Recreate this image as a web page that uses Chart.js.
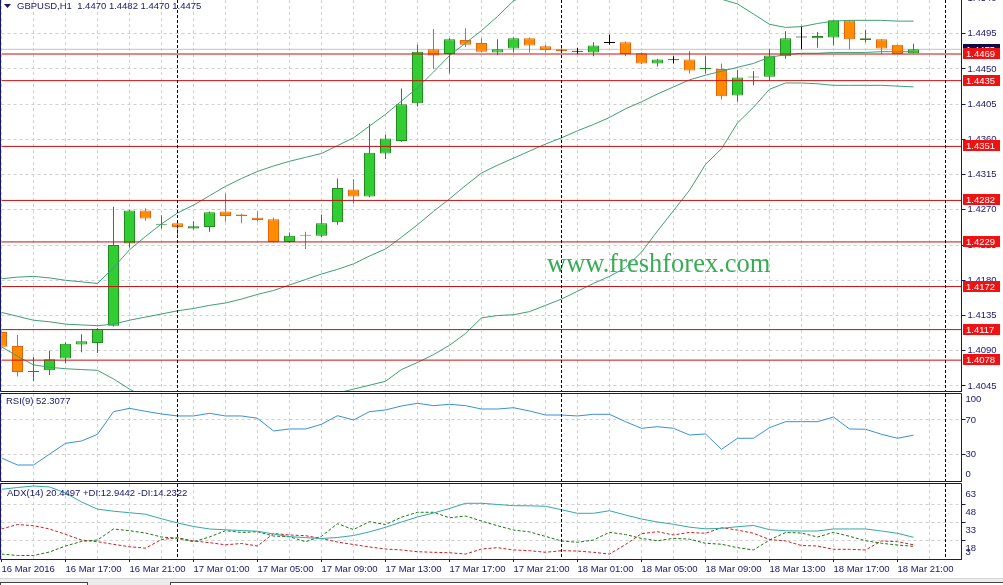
<!DOCTYPE html>
<html>
<head>
<meta charset="utf-8">
<script src="https://cdn.jsdelivr.net/npm/chart.js@4.4.1/dist/chart.umd.min.js"></script>
<style>
  html, body { margin: 0; padding: 0; background: #fff; }
  #wrap { position: relative; width: 1003px; height: 585px; overflow: hidden; background: #fff; }
  #wrap canvas { position: absolute; left: 0; }
  #main { top: 0; }
  #rsi { top: 392px; }
  #adx { top: 482px; }
  #tabs { position: absolute; left: 0; top: 578px; width: 1003px; height: 7px; background: #ececec; border-top: 1px solid #d6d6d6; }
  #tabs div { position: absolute; top: 3px; height: 8px; background: #fff; border: 1px solid #444; }
</style>
</head>
<body>
<div id="wrap">
  <canvas id="main" width="1003" height="392"></canvas>
  <canvas id="rsi" width="1003" height="90"></canvas>
  <canvas id="adx" width="1003" height="96"></canvas>
  <div id="tabs"><div style="left:0;width:86px"></div><div style="left:170px;width:840px"></div></div>
</div>
<script>
// GBPUSD H1, 16 Mar 13:00 .. 18 Mar 22:00 (one value per bar)
const opens  = [1.4114,1.4096,1.4063,1.4065,1.4080,1.4098,1.4100,1.4122,1.4227,1.4269,
                1.4251,1.4253,1.4246,1.4248,1.4268,1.4264,1.4260,1.4258,1.4229,1.4238,
                1.4237,1.4254,1.4296,1.4287,1.4342,1.4358,1.4406,1.4475,1.4469,1.4487,
                1.4483,1.4471,1.4476,1.4489,1.4479,1.4475,1.4472,1.4471,1.4483,1.4484,
                1.4470,1.4457,1.4461,1.4462,1.4450,1.4450,1.4416,1.4439,1.4440,1.4466,
                1.4490,1.4489,1.4490,1.4512,1.4487,1.4488,1.4481,1.4470];
const highs  = [1.4118,1.4110,1.4082,1.4090,1.4101,1.4111,1.4119,1.4274,1.4270,1.4272,
                1.4263,1.4254,1.4255,1.4268,1.4291,1.4265,1.4268,1.4260,1.4241,1.4242,
                1.4264,1.4310,1.4309,1.4380,1.4366,1.4425,1.4481,1.4501,1.4489,1.4502,
                1.4489,1.4488,1.4490,1.4490,1.4481,1.4480,1.4477,1.4484,1.4494,1.4485,
                1.4471,1.4463,1.4466,1.4473,1.4466,1.4457,1.4449,1.4447,1.4475,1.4498,
                1.4505,1.4497,1.4512,1.4512,1.4500,1.4488,1.4481,1.4482];
const lows   = [1.4092,1.4057,1.4051,1.4059,1.4074,1.4088,1.4087,1.4121,1.4222,1.4256,
                1.4246,1.4237,1.4245,1.4242,1.4255,1.4253,1.4255,1.4228,1.4228,1.4220,
                1.4235,1.4251,1.4278,1.4286,1.4335,1.4357,1.4402,1.4450,1.4444,1.4478,
                1.4471,1.4468,1.4471,1.4471,1.4471,1.4471,1.4469,1.4466,1.4481,1.4466,
                1.4456,1.4453,1.4457,1.4444,1.4444,1.4411,1.4408,1.4429,1.4435,1.4463,
                1.4475,1.4477,1.4480,1.4475,1.4484,1.4469,1.4469,1.4470];
const closes = [1.4095,1.4063,1.4064,1.4079,1.4099,1.4102,1.4117,1.4225,1.4269,1.4259,
                1.4252,1.4248,1.4249,1.4267,1.4262,1.4262,1.4257,1.4229,1.4237,1.4237,
                1.4253,1.4298,1.4287,1.4343,1.4361,1.4405,1.4472,1.4467,1.4488,1.4481,
                1.4472,1.4475,1.4489,1.4480,1.4474,1.4473,1.4472,1.4480,1.4483,1.4469,
                1.4457,1.4462,1.4461,1.4448,1.4451,1.4415,1.4439,1.4440,1.4467,1.4489,
                1.4490,1.4492,1.4512,1.4488,1.4489,1.4476,1.4469,1.4475];

// Bollinger bands
const upperBand = [1.4182,1.4184,1.4185,1.4183,1.4180,1.4178,1.4176,1.4196,1.4219,1.4236,
                   1.4252,1.4266,1.4276,1.4288,1.4300,1.4310,1.4319,1.4326,1.4332,1.4337,
                   1.4342,1.4352,1.4362,1.4377,1.4392,1.4409,1.4426,1.4446,1.4467,1.4483,
                   1.4499,1.4517,1.4537,1.4545,1.4549,1.4551,1.4552,1.4552,1.4551,1.4549,
                   1.4547,1.4545,1.4543,1.4541,1.4540,1.4539,1.4533,1.4520,1.4507,1.4503,
                   1.4504,1.4508,1.4511,1.4512,1.4512,1.4512,1.4511,1.4511];
const middleBand = [1.4139,1.4134,1.4129,1.4127,1.4124,1.4123,1.4122,1.4124,1.4129,1.4133,
                    1.4137,1.4141,1.4144,1.4148,1.4151,1.4156,1.4162,1.4167,1.4174,1.4181,
                    1.4188,1.4194,1.4201,1.4211,1.4220,1.4235,1.4251,1.4268,1.4284,1.4301,
                    1.4317,1.4327,1.4336,1.4345,1.4354,1.4362,1.4371,1.4379,1.4388,1.4399,
                    1.4408,1.4418,1.4427,1.4436,1.4442,1.4447,1.4452,1.4457,1.4465,1.4468,
                    1.4470,1.4470,1.4471,1.4471,1.4471,1.4472,1.4472,1.4472];
const lowerBand = [1.4095,1.4083,1.4072,1.4069,1.4067,1.4066,1.4065,1.4054,1.4041,1.4030,
                   1.4022,1.4016,1.4012,1.4008,1.4002,1.4002,1.4005,1.4008,1.4016,1.4025,
                   1.4034,1.4036,1.4041,1.4046,1.4051,1.4066,1.4075,1.4085,1.4097,1.4112,
                   1.4132,1.4135,1.4136,1.4140,1.4148,1.4156,1.4166,1.4176,1.4185,1.4196,
                   1.4216,1.4243,1.4269,1.4295,1.4328,1.4348,1.4381,1.4401,1.4424,1.4432,
                   1.4432,1.4431,1.4429,1.4429,1.4429,1.4429,1.4428,1.4427];

// RSI(9)
const rsi = [25.7,17.5,17.5,30.1,42.8,45.5,53.3,79.7,83.6,80.1,
             77,74.7,74.7,77.8,74.7,74.7,72,57.2,59.5,59.5,
             65,75,70,79.7,81.7,86.3,89.5,86.7,88.3,86.7,
             82.8,82.8,84.3,80.5,75.8,75.8,74.7,76.6,76.6,68,
             60.3,62.2,60.3,52.5,53.7,35.8,48.7,48.7,61,68,
             68,68,73.5,59.5,59.2,53.3,48.7,52.3];

// ADX(14), +DI, -DI
const adx = [60.45,61.95,63.2,62.4,57.4,49.9,43.9,42.2,40.95,39.7,
             35.9,32.4,29.45,27.4,26.7,26.1,25.5,23.2,21,20.2,
             19.45,20.3,21.95,25,28.8,33.2,37.4,40.7,44.45,48.8,
             48.8,47.8,46.8,46.7,46.3,43.4,40.45,40.45,42.6,39,
             35.7,33.2,31.3,28.9,27.5,27.95,29.3,30.3,26.8,25.9,
             25.7,25.7,27.4,27.4,27.4,25.7,23.8,20.45];
const plusDI = [6.5,5.3,5.3,8.2,13.2,17,18.2,27.4,25.95,24,
                20.7,19.6,16.8,20.7,25.95,24.5,25.1,21.5,20.95,16.8,
                21.3,31.8,26.9,33.45,31.1,37.2,41.3,41.3,36.7,38.2,
                34,30.1,26.5,25,21.2,17.4,16.3,18.2,24.6,22.8,
                19.5,17.6,19.6,18.9,15.45,14.7,11.8,9.9,18.2,24.45,
                24,20.7,24.6,21.3,17.6,15.5,14,12.94];
const minusDI = [27.4,31.1,30.1,27.4,22.95,18.2,16.8,14.6,12.6,11.4,
                 18.6,20.1,17.4,16,14.2,15.3,13.2,23.6,22.4,21.8,
                 19.4,16.5,14.45,12.4,10.7,9.9,8.45,7.95,7.6,6.5,
                 10.7,11.8,9.9,9.3,7.95,9.3,9,7.95,6.5,14.45,
                 23.5,25.1,22.4,24.5,23.8,28.4,26.5,23.8,18.6,17.5,
                 13.6,13.2,10.45,10.45,9.9,17.4,16.8,14.23];

// horizontal levels, bid, ticks and labels
const levels = [1.4469, 1.4435, 1.4351, 1.4282, 1.4229, 1.4172, 1.4117, 1.4078];
const bidPrice = 1.4475;
const priceTicks = [1.4540,1.4495,1.4450,1.4405,1.4360,1.4315,1.4270,1.4225,1.4180,1.4135,1.4090,1.4045];
const rsiGrid = [70, 30];
const rsiLabels = [100, 70, 30, 0];
const adxGrid = [48, 33, 18];
const adxLabels = [63, 48, 33, 18, 3];
const xLabels = ['16 Mar 2016','16 Mar 17:00','16 Mar 21:00','17 Mar 01:00','17 Mar 05:00',
                 '17 Mar 09:00','17 Mar 13:00','17 Mar 17:00','17 Mar 21:00','18 Mar 01:00',
                 '18 Mar 05:00','18 Mar 09:00','18 Mar 13:00','18 Mar 17:00','18 Mar 21:00'];
const daySeparators = [11, 35, 59];
const mainTitle = 'GBPUSD,H1  1.4470 1.4482 1.4470 1.4475';
const rsiTitle = 'RSI(9) 52.3077';
const adxTitle = 'ADX(14) 20.4497 +DI:12.9442 -DI:14.2322';
const watermark = 'www.freshforex.com';

const NAVY = '#17176e';
const GRID = '#cfcfcf';
const FONT = { family: '"Liberation Sans", Arial, sans-serif', size: 9.5 };
const FONT_CSS = '9.5px "Liberation Sans", Arial, sans-serif';
const BULL_FILL = '#32cd32', BULL_EDGE = '#1e8c1e';
const BEAR_FILL = '#ff8c00', BEAR_EDGE = '#e2650f';
const DOJI = '#000000';

const xTickValues = [];
for (let v = 0; v <= 60; v += 2) xTickValues.push(v);

const pts = arr => arr.map((v, i) => ({ x: i, y: v }));
const flat = v => [{ x: 0, y: v }, { x: 60, y: v }];

// no extra room for labels that hang over the panel edges
function noPadding(s) {
    s.paddingTop = 0; s.paddingBottom = 0; s.paddingLeft = 0; s.paddingRight = 0;
}

function xScale(withLabels) {
    return {
        type: 'linear', min: 0, max: 60, offset: false, bounds: 'data',
        afterBuildTicks: s => { s.ticks = xTickValues.map(v => ({ value: v })); },
        afterFit: s => { s.height = withLabels ? 19 : 0; noPadding(s); },
        grid: {
            offset: false, color: GRID, drawTicks: withLabels, tickLength: 3,
            tickColor: c => (c.tick && c.tick.value % 4 === 0) ? NAVY : 'rgba(0,0,0,0)'
        },
        border: { display: withLabels, color: NAVY, dash: [3, 3] },
        ticks: {
            display: withLabels, autoSkip: false, maxRotation: 0, minRotation: 0,
            align: 'start', padding: 2, color: NAVY, font: FONT,
            callback: v => (v % 4 === 0 ? xLabels[v / 4] : '')
        }
    };
}

function yScale(min, max, tickValues, showLabels, fmt) {
    return {
        type: 'linear', position: 'right', min: min, max: max, bounds: 'data', beginAtZero: false,
        afterBuildTicks: s => { s.ticks = tickValues.map(v => ({ value: v })); },
        afterFit: s => { s.width = 41.5; noPadding(s); },
        grid: { color: GRID, tickLength: 4, tickColor: NAVY },
        border: { color: NAVY, dash: [3, 3] },
        ticks: { display: showLabels, autoSkip: false, color: NAVY, font: FONT, padding: 2, callback: fmt }
    };
}

// dotted day separators over all panels
const separatorPlugin = {
    id: 'separators',
    afterDatasetsDraw(chart) {
        const { ctx, chartArea: a, scales: { x } } = chart;
        ctx.save();
        ctx.strokeStyle = '#000030';
        ctx.lineWidth = 1;
        ctx.setLineDash([3, 2]);
        daySeparators.forEach(v => {
            const px = Math.floor(x.getPixelForValue(v)) + 0.5;
            ctx.beginPath();
            ctx.moveTo(px, a.top);
            ctx.lineTo(px, a.bottom);
            ctx.stroke();
        });
        ctx.restore();
    }
};

// navy frame round each panel
const framePlugin = {
    id: 'frame',
    afterDraw(chart) {
        const { ctx, chartArea: a } = chart;
        const l = 0.5, r = Math.floor(a.right) + 0.5;
        const t = Math.round(a.top) - 0.5, b = Math.round(a.bottom) + 0.5;
        ctx.save();
        ctx.strokeStyle = NAVY;
        ctx.lineWidth = 1;
        ctx.beginPath();
        ctx.moveTo(l, t); ctx.lineTo(r, t); ctx.lineTo(r, b); ctx.lineTo(l, b); ctx.closePath();
        ctx.stroke();
        ctx.restore();
    }
};

// panel caption in the top left corner
const titlePlugin = {
    id: 'caption',
    afterDraw(chart, args, opts) {
        const ctx = chart.ctx;
        ctx.save();
        ctx.font = FONT_CSS;
        ctx.fillStyle = NAVY;
        ctx.textBaseline = 'middle';
        ctx.fillText(opts.text, opts.x, opts.y);
        if (opts.arrow) {
            ctx.beginPath();
            ctx.moveTo(4, 4); ctx.lineTo(11, 4); ctx.lineTo(7.5, 8); ctx.closePath();
            ctx.fill();
        }
        ctx.restore();
    }
};

// value labels on the right of the indicator panels, kept inside the panel
const sideLabelsPlugin = {
    id: 'sideLabels',
    afterDraw(chart, args, opts) {
        const { ctx, chartArea: a, scales: { y } } = chart;
        ctx.save();
        ctx.font = FONT_CSS;
        ctx.fillStyle = NAVY;
        ctx.textBaseline = 'middle';
        opts.values.forEach(v => {
            let py = y.getPixelForValue(v) + opts.offset;
            py = Math.min(Math.max(py, a.top + 5), a.bottom - 7);
            ctx.fillText(String(v), a.right + 4, py);
        });
        ctx.restore();
    }
};

function drawTag(ctx, py, value, color) {
    const top = Math.round(py - 5.5);
    ctx.fillStyle = color;
    ctx.fillRect(963, top, 37, 11);
    ctx.fillStyle = '#ffffff';
    ctx.font = FONT_CSS;
    ctx.textBaseline = 'middle';
    ctx.fillText(value.toFixed(4), 966, top + 6);
}

const mainOverlay = {
    id: 'mainOverlay',
    beforeDatasetsDraw(chart) {
        const ctx = chart.ctx;
        ctx.save();
        ctx.font = '26.5px "Liberation Serif", "Times New Roman", serif';
        ctx.fillStyle = '#3aab55';
        ctx.textBaseline = 'alphabetic';
        ctx.fillText(watermark, 547, 272);
        ctx.restore();
    },
    afterDraw(chart) {
        const { ctx, scales: { y } } = chart;
        ctx.save();
        drawTag(ctx, y.getPixelForValue(bidPrice), bidPrice, '#0b0b4a');
        levels.forEach(v => drawTag(ctx, y.getPixelForValue(v) - 0.5, v, '#f01212'));
        ctx.restore();
    }
};

const baseOptions = (padding) => ({
    responsive: false,
    animation: false,
    devicePixelRatio: 1,
    events: [],
    layout: { padding: padding }
});

function drawMain() {
    const bull = opens.map((o, i) => closes[i] > o);
    const bear = opens.map((o, i) => closes[i] < o);
    const fill = opens.map((o, i) => bull[i] ? BULL_FILL : bear[i] ? BEAR_FILL : DOJI);
    const edge = opens.map((o, i) => bull[i] ? BULL_EDGE : bear[i] ? BEAR_EDGE : DOJI);

    const levelSets = levels.map(v => ({
        type: 'line', data: flat(v), borderColor: '#c81010', borderWidth: 1,
        pointRadius: 0, order: 0
    }));
    const band = (arr) => ({
        type: 'line', data: pts(arr), borderColor: '#3f9f73', borderWidth: 1,
        pointRadius: 0, tension: 0, order: 1
    });

    new Chart(document.getElementById('main'), {
        type: 'bar',
        data: {
            datasets: [
                ...levelSets,
                band(upperBand), band(middleBand), band(lowerBand),
                {
                    type: 'bar', data: opens.map((o, i) => ({ x: i, y: [o, closes[i]] })),
                    backgroundColor: fill, borderColor: edge, borderWidth: 1, borderSkipped: false,
                    grouped: false, maxBarThickness: 11, minBarLength: 1, inflateAmount: 0, order: 2
                },
                {
                    type: 'bar', data: lows.map((l, i) => ({ x: i, y: [l, highs[i]] })),
                    backgroundColor: edge, borderWidth: 0, grouped: false,
                    maxBarThickness: 1, inflateAmount: 0, order: 3
                },
                {
                    type: 'line', data: flat(bidPrice), borderColor: '#c4c4c4', borderWidth: 1,
                    pointRadius: 0, order: 4
                }
            ]
        },
        options: {
            ...baseOptions({ left: 1.5, right: 0, top: 0, bottom: 1 }),
            scales: {
                x: xScale(false),
                y: yScale(1.40386, 1.45380, priceTicks, true, v => Number(v).toFixed(4))
            },
            plugins: {
                legend: { display: false }, tooltip: { enabled: false },
                caption: { text: mainTitle, x: 17, y: 6, arrow: true }
            }
        },
        plugins: [mainOverlay, separatorPlugin, framePlugin, titlePlugin]
    });
}

function drawRsi() {
    new Chart(document.getElementById('rsi'), {
        type: 'line',
        data: {
            datasets: [{
                data: pts(rsi), borderColor: '#3a8fd4', borderWidth: 1, pointRadius: 0, tension: 0
            }]
        },
        options: {
            ...baseOptions({ left: 1.5, right: 0, top: 2, bottom: 1 }),
            scales: {
                x: xScale(false),
                y: yScale(-1.14, 100.3, rsiGrid, false)
            },
            plugins: {
                legend: { display: false }, tooltip: { enabled: false },
                caption: { text: rsiTitle, x: 6, y: 9 },
                sideLabels: { values: rsiLabels, offset: 0 }
            }
        },
        plugins: [separatorPlugin, framePlugin, titlePlugin, sideLabelsPlugin]
    });
}

function drawAdx() {
    new Chart(document.getElementById('adx'), {
        type: 'line',
        data: {
            datasets: [
                { data: pts(adx), borderColor: '#35a7a4', borderWidth: 1, pointRadius: 0, tension: 0 },
                { data: pts(plusDI), borderColor: '#137a13', borderWidth: 1, borderDash: [3, 2], pointRadius: 0, tension: 0 },
                { data: pts(minusDI), borderColor: '#cc2020', borderWidth: 1, borderDash: [3, 2], pointRadius: 0, tension: 0 }
            ]
        },
        options: {
            ...baseOptions({ left: 1.5, right: 0, top: 2, bottom: 0 }),
            scales: {
                x: xScale(true),
                y: yScale(2.37, 64.87, adxGrid, false)
            },
            plugins: {
                legend: { display: false }, tooltip: { enabled: false },
                caption: { text: adxTitle, x: 7, y: 11 },
                sideLabels: { values: adxLabels, offset: 8 }
            }
        },
        plugins: [separatorPlugin, framePlugin, titlePlugin, sideLabelsPlugin]
    });
}

drawMain();
drawRsi();
drawAdx();
</script>
</body>
</html>
